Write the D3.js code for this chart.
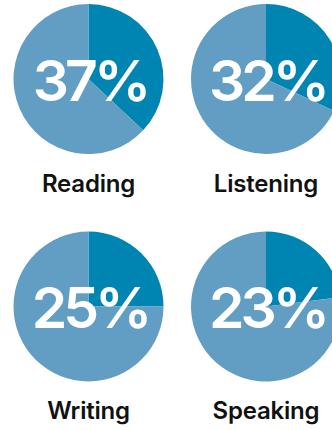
<!DOCTYPE html>
<html>
<head>
<meta charset="utf-8">
<script src="https://cdn.jsdelivr.net/npm/d3@7"></script>
<style>
  html, body { margin: 0; padding: 0; background: #fff; }
  svg { display: block; }
</style>
</head>
<body>
<svg id="chart" width="332" height="430"></svg>
<script>
// Share of each language skill
const skills = ["Reading", "Listening", "Writing", "Speaking"];
const shares = [37, 32, 25, 23];

const W = 332, H = 430;
const colors = { part: "#0084b1", rest: "#629dc3" };

const svg = d3.select("#chart");

// 2 x 2 grid of pies
const col = d3.scalePoint().domain([0, 1]).range([88.5, 266]);
const row = d3.scalePoint().domain([0, 1]).range([79, 306.5]);
const radius = 75;

const pie = d3.pie().sort(null).value(d => d);
const arc = d3.arc().innerRadius(0).outerRadius(radius);

skills.forEach((name, i) => {
  const cx = col(i % 2), cy = row(Math.floor(i / 2));
  const g = svg.append("g").attr("transform", `translate(${cx},${cy})`);
  const v = shares[i];

  g.selectAll("path")
    .data(pie([v, 100 - v]))
    .join("path")
    .attr("d", arc)
    .attr("fill", (d, j) => j === 0 ? colors.part : colors.rest);

  g.append("text")
    .attr("text-anchor", "middle")
    .attr("x", 1.5)
    .attr("y", 21.5)
    .attr("fill", "#fff")
    .attr("font-family", "Inter, 'Noto Sans', sans-serif")
    .attr("font-weight", 600)
    .attr("font-size", 57)
    .attr("letter-spacing", -4)
    .text(v + "%");

  g.append("text")
    .attr("text-anchor", "middle")
    .attr("y", 112.5)
    .attr("fill", "#111")
    .attr("font-family", "Inter, 'Noto Sans', sans-serif")
    .attr("font-weight", 600)
    .attr("font-size", 24)
    .attr("letter-spacing", -0.2)
    .text(name);
});
</script>
</body>
</html>
